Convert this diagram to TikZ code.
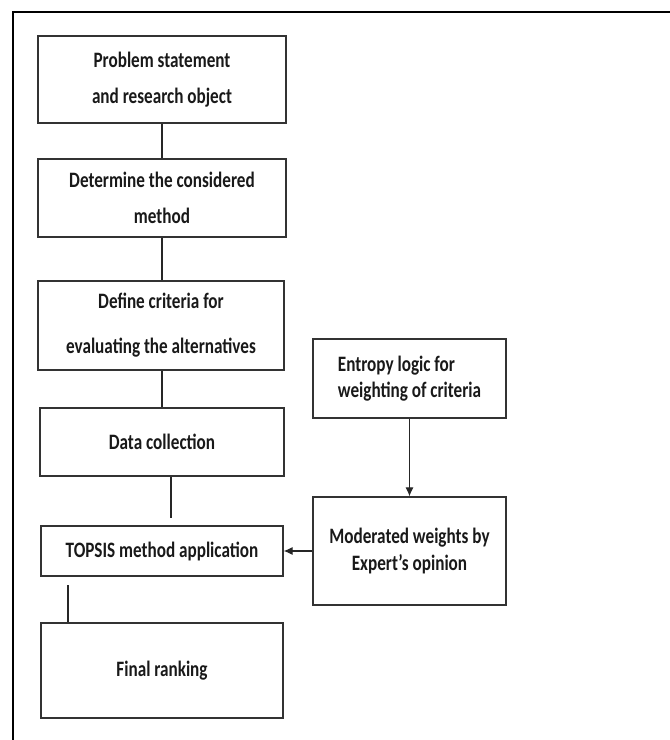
\documentclass[tikz,border=0pt]{standalone}
\usepackage{fontspec}
\setmainfont{Carlito}[FakeStretch=0.78]
\usetikzlibrary{arrows.meta}

\tikzset{
  stepbox/.style={draw=black!80, line width=1.2pt, align=center, inner sep=2pt,
    font=\bfseries\fontsize{22}{36}\selectfont, text=black!90},
  link/.style={draw=black!85, line width=1.1pt},
  arr/.style={link, -{Latex[length=9pt,width=8pt]}}
}

\begin{document}
\begin{tikzpicture}[x=1pt,y=-1pt]
    \useasboundingbox (0,0) rectangle (670,740);
    % outer frame
    \draw[line width=2pt] (13,740) -- (13,12) -- (670,12);

    % main column
    \node[stepbox, minimum width=248, minimum height=87] (prob)  at (162,79.5) {Problem statement\\and research object};
    \node[stepbox, minimum width=248, minimum height=78] (meth)  at (162,198)  {Determine the considered\\method};
    \node[stepbox, minimum width=246, minimum height=89,
          font=\bfseries\fontsize{22}{45}\selectfont] (crit) at (161,325.5) {Define criteria for\\evaluating the alternatives};
    \node[stepbox, minimum width=244, minimum height=68] (data)  at (162,442)  {Data collection};
    \node[stepbox, minimum width=242, minimum height=50] (tops)  at (162,551)  {TOPSIS method application};
    \node[stepbox, minimum width=242, minimum height=95] (rank)  at (162,670.5) {Final ranking};

    % weighting column
    \node[stepbox, minimum width=193, minimum height=79, align=left,
          font=\bfseries\fontsize{22}{26}\selectfont] (entr) at (409.5,378.5) {Entropy logic for\\weighting of criteria};
    \node[stepbox, minimum width=193, minimum height=108,
          font=\bfseries\fontsize{22}{27}\selectfont] (expt) at (409.5,551) {Moderated weights by\\Expert’s opinion};

    \coordinate (g1) at (171,518);
    \coordinate (g2) at (68,585);

    \draw[link] (prob) -- (meth);
    \draw[link] (meth.south) -- (meth.south |- crit.north);
    \draw[link] (crit.south -| meth.south) -- (data);
    \draw[link] (data.south -| g1) -- (g1);
    \draw[link] (g2) -- (g2 |- rank.north);

    \draw[arr] (entr) -- (expt);
    \draw[arr] (expt) -- (tops);
\end{tikzpicture}
\end{document}
